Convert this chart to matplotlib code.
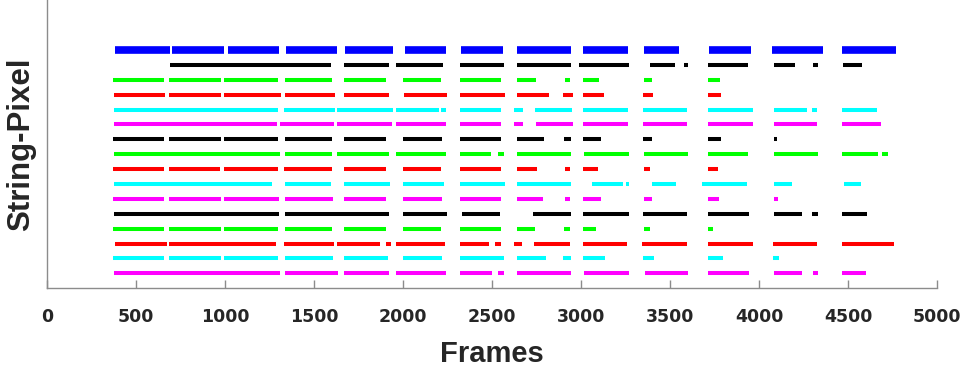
import matplotlib
matplotlib.use('Agg')
import matplotlib.pyplot as plt

# colour of each string row, top to bottom
row_colors = ['#0000ff', '#000000', '#00ff00', '#ff0000', '#00ffff', '#ff00ff',
              '#000000', '#00ff00', '#ff0000', '#00ffff', '#ff00ff',
              '#000000', '#00ff00', '#ff0000', '#00ffff', '#ff00ff']

# (start frame, end frame) of every visible run, one list per row
row_segments = [
    [(378, 687), (702, 995), (1014, 1303), (1343, 1626), (1671, 1942), (2011, 2243),
     (2323, 2562), (2642, 2943), (3012, 3262), (3353, 3550), (3718, 3955), (4071, 4358),
     (4468, 4769)],
    [(689, 1596), (1665, 1919), (1962, 2226), (2317, 2569), (2640, 2942), (2987, 3271),
     (3388, 3530), (3578, 3599), (3715, 3935), (4082, 4203), (4304, 4330), (4472, 4579)],
    [(370, 656), (684, 975), (995, 1298), (1335, 1602), (1665, 1902), (2000, 2215),
     (2317, 2550), (2640, 2746), (2907, 2939), (3013, 3101), (3353, 3396), (3715, 3778)],
    [(374, 659), (686, 977), (995, 1311), (1337, 1617), (1667, 1923), (2002, 2248),
     (2319, 2573), (2642, 2817), (2896, 2954), (3012, 3129), (3349, 3405), (3713, 3787)],
    [(374, 1294), (1333, 1619), (1630, 1940), (1962, 2200), (2215, 2243), (2319, 2552),
     (2623, 2674), (2743, 2946), (3012, 3265), (3347, 3593), (3713, 3966), (4086, 4269),
     (4300, 4325), (4468, 4661)],
    [(374, 1292), (1307, 1613), (1630, 1937), (1962, 2243), (2319, 2552), (2623, 2676),
     (2745, 2952), (3012, 3263), (3349, 3593), (3713, 3966), (4086, 4325), (4468, 4687)],
    [(370, 654), (684, 975), (995, 1298), (1335, 1602), (1665, 1906), (2000, 2218),
     (2319, 2552), (2640, 2789), (2901, 2941), (3012, 3109), (3349, 3396), (3715, 3784),
     (4082, 4101)],
    [(374, 1307), (1335, 1600), (1628, 1922), (1962, 2239), (2319, 2493), (2532, 2569),
     (2640, 2944), (3015, 3271), (3355, 3599), (3715, 3940), (4086, 4330), (4468, 4666),
     (4691, 4724)],
    [(370, 654), (684, 971), (994, 1294), (1333, 1600), (1665, 1902), (2000, 2213),
     (2319, 2549), (2640, 2750), (2907, 2937), (3012, 3095), (3351, 3387), (3715, 3767)],
    [(374, 1264), (1335, 1596), (1665, 1925), (2000, 2228), (2319, 2571), (2640, 2944),
     (3062, 3237), (3250, 3271), (3396, 3531), (3677, 3931), (4082, 4187), (4478, 4571)],
    [(370, 656), (684, 975), (995, 1300), (1335, 1606), (1665, 1906), (2000, 2217),
     (2319, 2549), (2640, 2786), (2907, 2939), (3012, 3109), (3355, 3400), (3715, 3776),
     (4084, 4106)],
    [(374, 1301), (1335, 1922), (2000, 2244), (2332, 2543), (2732, 2944), (3013, 3269),
     (3349, 3597), (3715, 3942), (4086, 4241), (4300, 4330), (4468, 4608)],
    [(370, 656), (684, 975), (994, 1296), (1335, 1602), (1665, 1902), (2000, 2213),
     (2319, 2547), (2640, 2743), (2905, 2939), (3012, 3082), (3351, 3387), (3715, 3743)],
    [(378, 671), (684, 1287), (1330, 1609), (1630, 1869), (1902, 1932), (1962, 2235),
     (2319, 2483), (2515, 2549), (2623, 2668), (2735, 2937), (3012, 3260), (3344, 3593),
     (3713, 3965), (4080, 4323), (4465, 4758)],
    [(370, 658), (684, 975), (995, 1298), (1335, 1604), (1665, 1912), (2000, 2220),
     (2319, 2569), (2640, 2802), (2899, 2944), (3012, 3133), (3347, 3409), (3715, 3797),
     (4080, 4112)],
    [(374, 1305), (1335, 1632), (1665, 1918), (1962, 2243), (2319, 2500), (2532, 2565),
     (2640, 2944), (3015, 3271), (3359, 3599), (3715, 3942), (4086, 4243), (4304, 4330),
     (4468, 4599)],
]

x_ticks = [0, 500, 1000, 1500, 2000, 2500, 3000, 3500, 4000, 4500, 5000]

fig = plt.figure(figsize=(9.65, 3.74), dpi=100)
ax = fig.add_axes([0.049, 0.231, 0.922, 0.769])

n_rows = len(row_segments)
for i, (segs, col) in enumerate(zip(row_segments, row_colors)):
    y = n_rows - i
    starts = [s for s, e in segs]
    ends = [e for s, e in segs]
    lw = 5.5 if i == 0 else 2.9
    ax.hlines([y] * len(segs), starts, ends, colors=col, linewidth=lw, capstyle='butt')

ax.set_xlim(0, 5000)
ax.set_ylim(0.045, 19.36)
ax.set_xticks(x_ticks)
ax.set_yticks([])

for side in ['top', 'right']:
    ax.spines[side].set_visible(False)
for side in ['left', 'bottom']:
    ax.spines[side].set_color('#8c8c8c')
    ax.spines[side].set_linewidth(1.0)

ax.tick_params(axis='x', direction='in', length=6, width=1, color='#8c8c8c',
               pad=15, labelsize=12.5, labelcolor='#262626')
for lab in ax.get_xticklabels():
    lab.set_fontfamily('DejaVu Sans')
    lab.set_fontweight('bold')

ax.set_xlabel('Frames', fontsize=21, fontweight='bold', family='Liberation Sans',
              color='#262626', labelpad=10)
ax.set_ylabel('String-Pixel', fontsize=22.5, fontweight='bold', family='Liberation Sans',
              color='#262626', labelpad=8)

fig.savefig('out.png', dpi=100)
